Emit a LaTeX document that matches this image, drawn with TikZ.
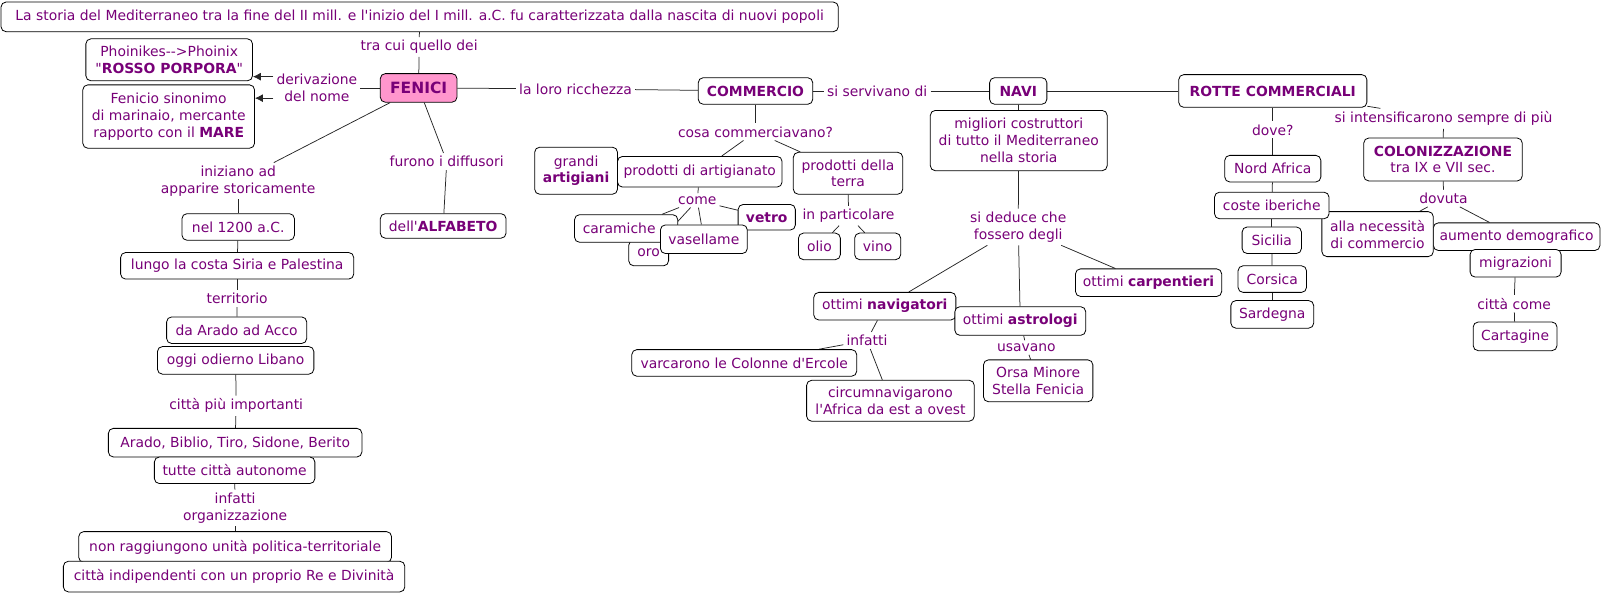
\documentclass[tikz,border=0pt]{standalone}
\usepackage{fontspec}
\setmainfont{DejaVu Sans}[Ligatures=TeXOff]
\usetikzlibrary{arrows.meta,backgrounds}
\definecolor{txt}{RGB}{120,0,120}
\definecolor{pinkfill}{RGB}{255,150,205}
\tikzset{
  box/.style={draw=black, line width=0.8pt, rounded corners=5pt, fill=white, text=txt, align=center, inner sep=1pt},
  fenici/.style={fill=pinkfill, font=\fontsize{15.5}{18}\selectfont\bfseries},
  lab/.style={text=txt, align=center, inner sep=3pt},
  con/.style={draw=black!85, line width=0.75pt},
  arr/.style={con, -{Latex[length=8pt,width=8pt]}},
}
\newcommand\bx[7][]{\node[box,#1,minimum width={(#5-#3)*1.0223pt},minimum height={(#6-#4)*1.0223pt}] (#2) at ({(#3+#5)/2},{(#4+#6)/2}) {#7};}
\newcommand\lb[4]{\node[lab] (#1) at (#2,#3) {#4};}
\begin{document}
\begin{tikzpicture}[x=1.0223pt,y=-1.0223pt,font=\fontsize{13.9}{16.9}\selectfont]
\useasboundingbox (0,0) rectangle (1568,581);
% ---------- nodes
\bx{top}{1}{2}{820}{31}{La storia del Mediterraneo tra la fine del II mill. e l'inizio del I mill. a.C. fu caratterizzata dalla nascita di nuovi popoli}
\lb{tracui}{410}{46}{tra cui quello dei}
\bx[fenici]{fen}{372}{72}{447}{100}{FENICI}
\bx{pho}{84}{38}{247}{79}{Phoinikes-->Phoinix\\"\textbf{ROSSO PORPORA}"}
\bx{fenicio}{81}{83}{249}{145}{Fenicio sinonimo\\di marinaio, mercante\\rapporto con il \textbf{MARE}}
\lb{der}{310}{86}{derivazione\\del nome}
\lb{ricch}{563}{87}{la loro ricchezza}
\bx{comm}{683}{76}{795}{102}{\textbf{COMMERCIO}}
\lb{servi}{858}{89}{si servivano di}
\bx{navi}{968}{76}{1024}{102}{\textbf{NAVI}}
\bx{rotte}{1153}{73}{1337}{105}{\textbf{ROTTE COMMERCIALI}}
\lb{intens}{1412}{116}{si intensificarono sempre di più}
\bx{colon}{1334}{135}{1489}{177}{\textbf{COLONIZZAZIONE}\\tra IX e VII sec.}
\lb{dovuta}{1412}{194}{dovuta}
\bx{aumento}{1402}{218}{1565}{245}{aumento demografico}
\bx{necess}{1293}{207}{1402}{251}{alla necessità\\di commercio}
\bx{migr}{1438}{244}{1527}{271}{migrazioni}
\lb{cittacome}{1481}{297}{città come}
\bx{cart}{1441}{315}{1523}{343}{Cartagine}
\lb{dove}{1245}{127}{dove?}
\bx{nord}{1198}{152}{1292}{178}{Nord Africa}
\bx{coste}{1188}{188}{1300}{214}{coste iberiche}
\bx{sicilia}{1215}{222}{1273}{248}{Sicilia}
\bx{corsica}{1211}{260}{1278}{286}{Corsica}
\bx{sard}{1204}{294}{1285}{321}{Sardegna}
\bx{migl}{910}{108}{1083}{167}{migliori costruttori\\di tutto il Mediterraneo\\nella storia}
\lb{deduce}{996}{222}{si deduce che\\fossero degli}
\bx{carp}{1052}{263}{1195}{290}{ottimi \textbf{carpentieri}}
\bx{navig}{796}{286}{935}{313}{ottimi \textbf{navigatori}}
\bx{astro}{934}{300}{1062}{328}{ottimi \textbf{astrologi}}
\lb{usav}{1004}{340}{usavano}
\bx{orsa}{962}{352}{1069}{393}{Orsa Minore\\Stella Fenicia}
\lb{infatti2}{848}{333}{infatti}
\bx{varc}{618}{342}{838}{368}{varcarono le Colonne d'Ercole}
\bx{circ}{789}{372}{953}{412}{circumnavigarono\\l'Africa da est a ovest}
\lb{cosa}{739}{129}{cosa commerciavano?}
\bx{artig}{604}{153}{765}{183}{prodotti di artigianato}
\bx{grandi}{523}{144}{604}{190}{grandi\\\textbf{artigiani}}
\bx{terra}{776}{149}{883}{190}{prodotti della\\terra}
\lb{come}{682}{196}{come}
\bx{oro}{615}{235}{654}{260}{oro}
\bx{caram}{562}{210}{663}{237}{caramiche\hspace*{14pt}}
\bx{vetro}{722}{200}{778}{225}{\textbf{vetro}}
\bx{vasel}{646}{220}{731}{248}{vasellame}
\lb{partic}{830}{211}{in particolare}
\bx{olio}{781}{228}{822}{254}{olio}
\bx{vino}{836}{228}{881}{254}{vino}
\lb{iniz}{233}{177}{iniziano ad\\apparire storicamente}
\lb{furono}{437}{158}{furono i diffusori}
\bx{alfa}{372}{209}{495}{233}{dell'\textbf{ALFABETO}}
\bx{nel}{178}{209}{288}{235}{nel 1200 a.C.}
\bx{lungo}{118}{247}{346}{273}{lungo la costa Siria e Palestina}
\lb{territ}{232}{292}{territorio}
\bx{arado}{163}{310}{300}{336}{da Arado ad Acco}
\bx{oggi}{154}{339}{307}{366}{oggi odierno Libano}
\lb{cittapiu}{231}{397}{città più importanti}
\bx{aradoB}{106}{419}{354}{447}{Arado, Biblio, Tiro, Sidone, Berito}
\bx{tutte}{151}{447}{308}{473}{tutte città autonome}
\lb{infatti}{230}{497}{infatti\\organizzazione}
\bx{nonr}{77}{520}{383}{550}{non raggiungono unità politica-territoriale}
\bx{cind}{62}{549}{396}{579}{città indipendenti con un proprio Re e Divinità}
% ---------- connectors
\begin{pgfonlayer}{background}
\draw[con] (top) -- (tracui);
\draw[con] (tracui) -- (fen);
\draw[con] (fen) -- (der);
\draw[arr] (der.west |- 0,75) -- (pho.east |- 0,75);
\draw[arr] (der.west |- 0,96) -- (fenicio.east |- 0,96);
\draw[con] (fen) -- (ricch);
\draw[con] (ricch) -- (comm);
\draw[con] (comm) -- (servi);
\draw[con] (servi) -- (navi);
\draw[con] (navi) -- (rotte);
\draw[con] (rotte) -- (intens);
\draw[con] (intens) -- (colon);
\draw[con] (colon) -- (dovuta);
\draw[con] (dovuta) -- (necess);
\draw[con] (dovuta) -- (aumento);
\draw[con] (migr) -- (cittacome);
\draw[con] (cittacome) -- (cart);
\draw[con] (rotte) -- (dove);
\draw[con] (dove) -- (nord);
\draw[con] (nord) -- (coste);
\draw[con] (coste) -- (sicilia);
\draw[con] (sicilia) -- (corsica);
\draw[con] (corsica) -- (sard);
\draw[con] (navi) -- (migl);
\draw[con] (migl) -- (deduce);
\draw[con] (deduce) -- (navig);
\draw[con] (deduce) -- (astro);
\draw[con] (deduce) -- (carp);
\draw[con] (astro) -- (usav);
\draw[con] (usav) -- (orsa);
\draw[con] (navig) -- (infatti2);
\draw[con] (infatti2) -- (varc);
\draw[con] (infatti2) -- (circ);
\draw[con] (comm) -- (cosa);
\draw[con] (cosa) -- (artig);
\draw[con] (cosa) -- (terra);
\draw[con] (artig) -- (come);
\draw[con] (come) -- (caram);
\draw[con] (come) -- (oro);
\draw[con] (come) -- (vasel);
\draw[con] (come) -- (vetro);
\draw[con] (terra) -- (partic);
\draw[con] (partic) -- (olio);
\draw[con] (partic) -- (vino);
\draw[con] (fen) -- (iniz);
\draw[con] (iniz) -- (nel);
\draw[con] (nel) -- (lungo);
\draw[con] (lungo) -- (territ);
\draw[con] (territ) -- (arado);
\draw[con] (oggi) -- (cittapiu);
\draw[con] (cittapiu) -- (aradoB);
\draw[con] (tutte) -- (infatti);
\draw[con] (infatti) -- (nonr);
\draw[con] (fen) -- (furono);
\draw[con] (furono) -- (alfa);
\end{pgfonlayer}
\end{tikzpicture}
\end{document}
